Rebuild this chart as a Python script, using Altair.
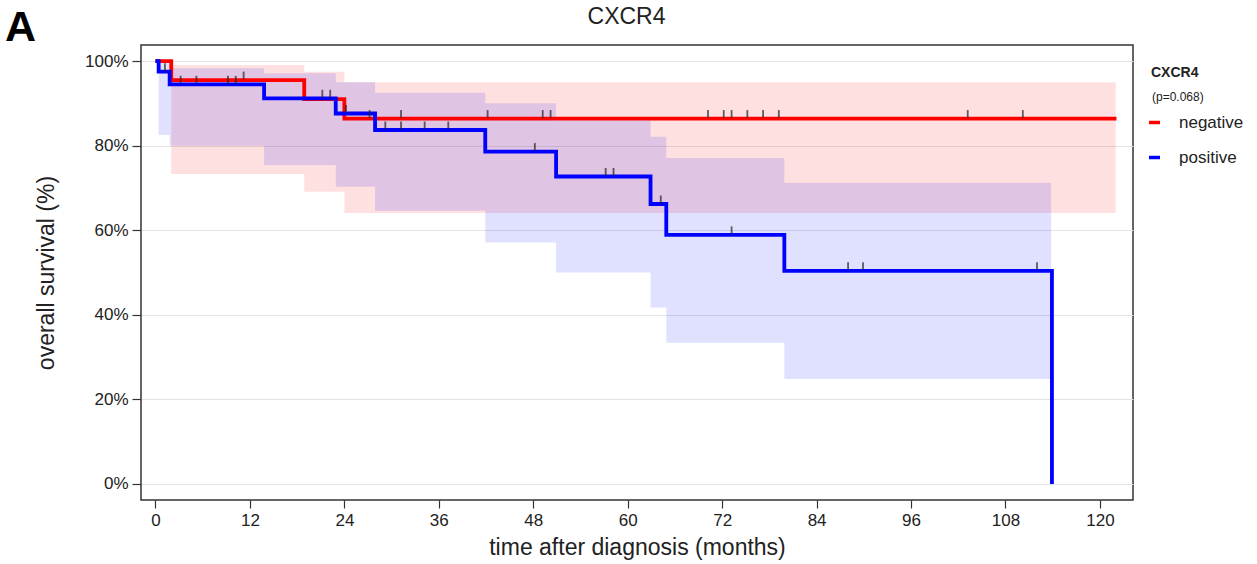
import altair as alt
import pandas as pd

# ---- Kaplan-Meier steps (time in months, survival in %) ----
neg_time = [0, 2.0, 18.9, 24.0, 122.1]
neg_surv = [100, 95.5, 91.0, 86.4, 86.4]

pos_time = [0, 0.4, 1.8, 13.8, 22.9, 27.9, 41.9, 50.9, 62.9, 64.9, 79.9, 113.9]
pos_surv = [100, 97.5, 94.5, 91.2, 87.6, 83.7, 78.6, 72.7, 66.2, 58.9, 50.4, 0]

# ---- confidence bands (step-after) ----
neg_ci_time = [2.0, 18.9, 24.0, 122.0]
neg_ci_lo = [73.3, 69.1, 64.1, 64.1]
neg_ci_hi = [99.1, 97.5, 95.0, 95.0]

pos_ci_time = [0.4, 1.8, 13.8, 22.9, 27.9, 41.9, 50.9, 62.9, 64.9, 79.9, 113.8]
pos_ci_lo = [82.5, 80.0, 75.4, 70.3, 64.6, 57.1, 50.0, 41.7, 33.4, 24.8, 24.8]
pos_ci_hi = [100, 98.3, 97.1, 95.0, 92.5, 90.0, 86.0, 82.1, 77.1, 71.2, 71.2]

# ---- censoring marks ----
neg_cens_t = [11.2, 27.2, 31.2, 42.2, 49.2, 50.2, 70.2, 72.2, 73.2, 75.2, 77.2, 79.2, 103.2, 110.2]
neg_cens_s = [95.5, 86.4, 86.4, 86.4, 86.4, 86.4, 86.4, 86.4, 86.4, 86.4, 86.4, 86.4, 86.4, 86.4]

pos_cens_t = [1.2, 3.2, 5.2, 9.2, 10.2, 21.2, 22.2, 24.2, 29.2, 31.2, 34.2, 37.2,
              48.2, 57.2, 58.2, 64.2, 73.2, 88.0, 89.9, 112.0]
pos_cens_s = [97.5, 94.5, 94.5, 94.5, 94.5, 91.2, 91.2, 87.6, 83.7, 83.7, 83.7, 83.7,
              78.6, 72.7, 72.7, 66.2, 58.9, 50.4, 50.4, 50.4]

groups = ["negative", "positive"]
colors = ["#ff0000", "#0000ff"]
x_ticks = list(range(0, 121, 12))
y_ticks = [0, 20, 40, 60, 80, 100]

FONT = "Liberation Sans, Arial, Helvetica, sans-serif"

lines_df = pd.concat([
    pd.DataFrame({"group": "negative", "t": neg_time, "s": neg_surv}),
    pd.DataFrame({"group": "positive", "t": pos_time, "s": pos_surv}),
], ignore_index=True)
neg_ci_df = pd.DataFrame({"t": neg_ci_time, "lo": neg_ci_lo, "hi": neg_ci_hi})
pos_ci_df = pd.DataFrame({"t": pos_ci_time, "lo": pos_ci_lo, "hi": pos_ci_hi})
cens_df = pd.concat([
    pd.DataFrame({"group": "negative", "t": neg_cens_t, "s": neg_cens_s}),
    pd.DataFrame({"group": "positive", "t": pos_cens_t, "s": pos_cens_s}),
], ignore_index=True)

xscale = alt.Scale(domain=[-1.84, 124.2], nice=False, zero=False)
yscale = alt.Scale(domain=[-3.8, 103.8], nice=False, zero=False)

xaxis = alt.Axis(values=x_ticks, title="time after diagnosis (months)", grid=False,
                 domain=False, tickSize=8, tickColor="#333", tickWidth=1.2,
                 labelFontSize=17, labelPadding=4, labelColor="#222", labelFont=FONT,
                 titleFontSize=23, titleFontWeight="normal", titlePadding=8,
                 titleColor="#222", titleFont=FONT)
yaxis = alt.Axis(values=y_ticks, labelExpr="datum.value + '%'", title="overall survival (%)",
                 grid=True, gridColor="#e3e3e3", gridWidth=1, domain=False,
                 tickSize=9, tickColor="#333", tickWidth=1.2,
                 labelFontSize=17, labelPadding=4, labelColor="#222", labelFont=FONT,
                 titleFontSize=23, titleFontWeight="normal", titlePadding=26,
                 titleColor="#222", titleFont=FONT)

area_neg = alt.Chart(neg_ci_df).mark_area(
    interpolate="step-after", opacity=0.12, color=colors[0]).encode(
    x=alt.X("t:Q", scale=xscale, axis=xaxis),
    y=alt.Y("lo:Q", scale=yscale, axis=yaxis),
    y2="hi:Q",
)
area_pos = alt.Chart(pos_ci_df).mark_area(
    interpolate="step-after", opacity=0.12, color=colors[1]).encode(
    x=alt.X("t:Q", scale=xscale),
    y=alt.Y("lo:Q", scale=yscale),
    y2="hi:Q",
)

lines = alt.Chart(lines_df).mark_line(interpolate="step-after", strokeWidth=3.8).encode(
    x=alt.X("t:Q", scale=xscale),
    y=alt.Y("s:Q", scale=yscale),
    color=alt.Color("group:N", scale=alt.Scale(domain=groups, range=colors),
                    legend=alt.Legend(
                        title="CXCR4", orient="none", legendX=1010, legendY=21,
                        titleFontSize=14, titleFontWeight="bold", titleColor="#222",
                        titleFont=FONT, titlePadding=34, labelFontSize=17, labelFont=FONT,
                        labelColor="#222", rowPadding=17, symbolType="stroke",
                        symbolSize=120, symbolStrokeWidth=3.5, symbolOffset=-5,
                        labelOffset=16)),
)

ticks = alt.Chart(cens_df).mark_tick(orient="vertical", size=8, thickness=1.8,
                                     color="#222", yOffset=-4.5).encode(
    x=alt.X("t:Q", scale=xscale),
    y=alt.Y("s:Q", scale=yscale),
)

letter = alt.Chart(pd.DataFrame({"label": ["A"]})).mark_text(
    align="left", baseline="middle", fontSize=43, fontWeight="bold", font=FONT,
    color="#000").encode(x=alt.value(-136), y=alt.value(-17), text="label:N")

title = alt.Chart(pd.DataFrame({"label": ["CXCR4"]})).mark_text(
    align="center", baseline="middle", fontSize=23, font=FONT,
    color="#222").encode(x=alt.value(485.5), y=alt.value(-28), text="label:N")

ptext = alt.Chart(pd.DataFrame({"label": ["(p=0.068)"]})).mark_text(
    align="left", baseline="middle", fontSize=12, font=FONT,
    color="#222").encode(x=alt.value(1011), y=alt.value(52), text="label:N")

chart = alt.layer(area_neg, area_pos, lines, ticks, letter, title, ptext).properties(
    width=992, height=455,
    padding={"left": 141, "top": 45, "right": 124, "bottom": 64},
    autosize=alt.AutoSizeParams(type="none"),
).configure_view(stroke="#333", strokeWidth=1.5)

chart.save("out.html", embed_options={"renderer": "svg", "actions": False})
